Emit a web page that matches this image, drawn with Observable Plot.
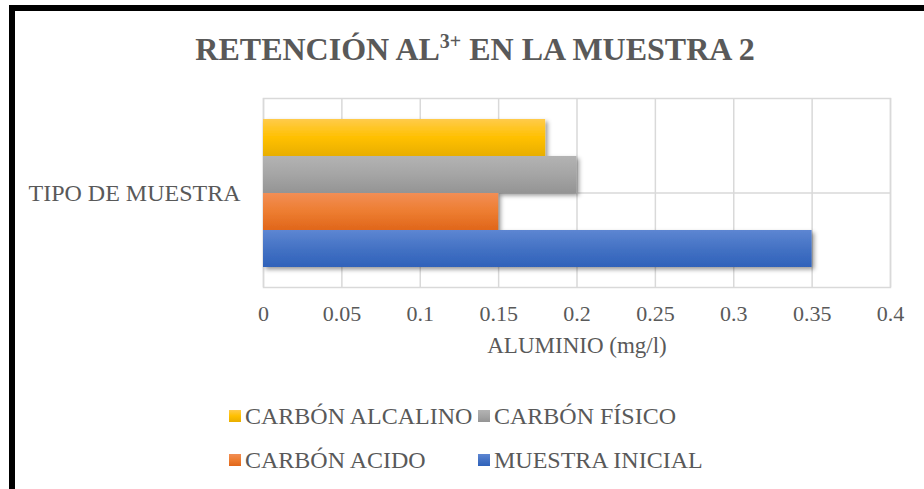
<!DOCTYPE html>
<html>
<head>
<meta charset="utf-8">
<script src="https://cdn.jsdelivr.net/npm/d3@7"></script>
<script src="https://cdn.jsdelivr.net/npm/@observablehq/plot@0.6"></script>
<style>
  html, body { margin: 0; padding: 0; background: #fff; }
  #chart {
    position: relative; width: 924px; height: 489px; overflow: hidden; background: #fff;
    font-family: "Liberation Serif", "Times New Roman", serif; color: #595959;
  }
  #frame {
    position: absolute; left: 9px; top: 5px; width: 940px; height: 500px;
    border: 6px solid #000; box-sizing: border-box;
  }
  #title {
    position: absolute; left: 0; top: 33px; width: 950px; text-align: center;
    font-size: 32px; font-weight: bold; line-height: 1; white-space: nowrap;
  }
  #title sup { font-size: 20px; vertical-align: baseline; position: relative; top: -0.6em; }
  #plot { position: absolute; left: 0; top: 0; }
  #legend {
    position: absolute; left: 229px; top: 404px; display: grid;
    grid-template-columns: 249px auto; row-gap: 20px; font-size: 24px; line-height: 24px;
  }
  .item { display: flex; align-items: center; white-space: nowrap; }
  .swatch { width: 12px; height: 12px; margin-right: 4px; }
</style>
</head>
<body>
<div id="chart">
  <div id="frame"></div>
  <div id="title">RETENCIÓN AL<sup>3+</sup> EN LA MUESTRA 2</div>
  <div id="plot"></div>
  <div id="legend"></div>
</div>
<script>
// Aluminium retained in sample 2, per treatment (mg/l)
const category = "TIPO DE MUESTRA";
const series = ["CARBÓN ALCALINO", "CARBÓN FÍSICO", "CARBÓN ACIDO", "MUESTRA INICIAL"];
const values = [0.18, 0.2, 0.15, 0.35];

const xTicks = [0, 0.05, 0.1, 0.15, 0.2, 0.25, 0.3, 0.35, 0.4];
const xTickLabels = ["0", "0.05", "0.1", "0.15", "0.2", "0.25", "0.3", "0.35", "0.4"];

// Office-style fills: light top, base, dark bottom
const baseColors  = ["#FFC000", "#A5A5A5", "#ED7D31", "#4472C4"];
const lightColors = ["#FFCB4A", "#B3B3B3", "#F28E55", "#5D86D2"];
const darkColors  = ["#E8AE00", "#949494", "#E0661A", "#2F62BA"];

const rows = series.map((s, i) => ({series: s, value: values[i]}));

const W = 924, H = 370;
const margins = {top: 98, right: 34, bottom: 83, left: 263};
const yStep = (H - margins.top - margins.bottom) / (series.length + 1);

const gradId = i => `bar-grad-${i}`;

const chart = Plot.plot({
  width: W,
  height: H,
  marginTop: margins.top,
  marginRight: margins.right,
  marginBottom: margins.bottom,
  marginLeft: margins.left,
  style: {
    fontFamily: '"Liberation Serif", "Times New Roman", serif',
    fontSize: "22px",
    color: "#595959",
    background: "transparent",
    overflow: "visible"
  },
  x: {
    domain: [0, 0.4],
    ticks: xTicks,
    tickFormat: d => xTickLabels[xTicks.indexOf(d)],
    tickSize: 0,
    tickPadding: 18,
    label: null
  },
  y: {
    domain: series,
    paddingInner: 0,
    paddingOuter: 0.5,
    axis: null
  },
  color: {
    domain: series,
    range: series.map((s, i) => `url(#${gradId(i)})`)
  },
  marks: [
    Plot.ruleX(xTicks, {stroke: "#d9d9d9", strokeWidth: 1.5}),
    Plot.frame({stroke: "#d9d9d9", strokeWidth: 1.5}),
    Plot.ruleY([series[2]], {stroke: "#d9d9d9", strokeWidth: 1.5, dy: -yStep / 2}),
    Plot.barX(rows, {x: "value", y: "series", fill: "series"}),
    Plot.text([category], {
      frameAnchor: "left", textAnchor: "end", dx: -23,
      fontSize: 24, fill: "#595959"
    }),
    Plot.text(["ALUMINIO (mg/l)"], {
      frameAnchor: "bottom", dy: 65, fontSize: 23, fill: "#595959"
    })
  ]
});

// gradient fills and soft drop shadow for the bars
const svg = d3.select(chart);
const defs = svg.insert("defs", ":first-child");
series.forEach((s, i) => {
  const g = defs.append("linearGradient").attr("id", gradId(i))
    .attr("x1", 0).attr("y1", 0).attr("x2", 0).attr("y2", 1);
  g.append("stop").attr("offset", "0%").attr("stop-color", lightColors[i]);
  g.append("stop").attr("offset", "50%").attr("stop-color", baseColors[i]);
  g.append("stop").attr("offset", "100%").attr("stop-color", darkColors[i]);
});
const shadow = defs.append("filter").attr("id", "bar-shadow")
  .attr("x", "-10%").attr("y", "-10%").attr("width", "130%").attr("height", "140%");
shadow.append("feDropShadow")
  .attr("dx", 2.5).attr("dy", 2.5).attr("stdDeviation", 2)
  .attr("flood-color", "#000").attr("flood-opacity", 0.4);
svg.selectAll('g[aria-label="bar"]').attr("filter", "url(#bar-shadow)");

document.getElementById("plot").appendChild(chart);

// legend, two items per row
const legend = d3.select("#legend");
series.forEach((s, i) => {
  const item = legend.append("div").attr("class", "item");
  item.append("div").attr("class", "swatch")
    .style("background", `linear-gradient(${lightColors[i]}, ${baseColors[i]}, ${darkColors[i]})`);
  item.append("span").text(s);
});
</script>
</body>
</html>
